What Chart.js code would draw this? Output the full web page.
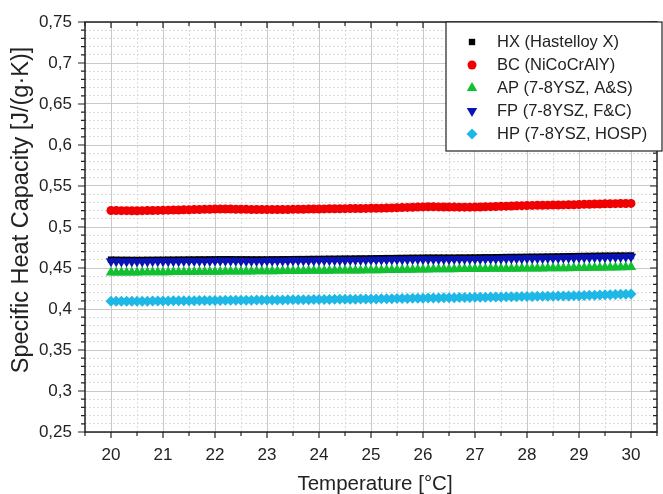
<!DOCTYPE html>
<html>
<head>
<meta charset="utf-8">
<script src="https://cdn.jsdelivr.net/npm/chart.js@4.4.1/dist/chart.umd.min.js"></script>
<style>
  html, body { margin: 0; padding: 0; background: #fff; }
</style>
</head>
<body>
<canvas id="heatChart" width="663" height="494"></canvas>
<script>
// temperature [°C], 0.1 K steps
var temps = [
  20.0, 20.1, 20.2, 20.3, 20.4, 20.5, 20.6, 20.7, 20.8, 20.9,
  21.0, 21.1, 21.2, 21.3, 21.4, 21.5, 21.6, 21.7, 21.8, 21.9,
  22.0, 22.1, 22.2, 22.3, 22.4, 22.5, 22.6, 22.7, 22.8, 22.9,
  23.0, 23.1, 23.2, 23.3, 23.4, 23.5, 23.6, 23.7, 23.8, 23.9,
  24.0, 24.1, 24.2, 24.3, 24.4, 24.5, 24.6, 24.7, 24.8, 24.9,
  25.0, 25.1, 25.2, 25.3, 25.4, 25.5, 25.6, 25.7, 25.8, 25.9,
  26.0, 26.1, 26.2, 26.3, 26.4, 26.5, 26.6, 26.7, 26.8, 26.9,
  27.0, 27.1, 27.2, 27.3, 27.4, 27.5, 27.6, 27.7, 27.8, 27.9,
  28.0, 28.1, 28.2, 28.3, 28.4, 28.5, 28.6, 28.7, 28.8, 28.9,
  29.0, 29.1, 29.2, 29.3, 29.4, 29.5, 29.6, 29.7, 29.8, 29.9,
  30.0
];

var hxValues = [
  0.4602, 0.4601, 0.4600, 0.4600, 0.4599, 0.4599, 0.4599, 0.4600, 0.4600, 0.4601,
  0.4601, 0.4602, 0.4602, 0.4603, 0.4603, 0.4604, 0.4604, 0.4605, 0.4605, 0.4606,
  0.4606, 0.4607, 0.4607, 0.4607, 0.4606, 0.4606, 0.4606, 0.4605, 0.4605, 0.4605,
  0.4605, 0.4606, 0.4606, 0.4607, 0.4607, 0.4608, 0.4609, 0.4609, 0.4610, 0.4611,
  0.4611, 0.4612, 0.4613, 0.4613, 0.4614, 0.4615, 0.4615, 0.4616, 0.4617, 0.4617,
  0.4618, 0.4619, 0.4620, 0.4621, 0.4621, 0.4622, 0.4623, 0.4624, 0.4625, 0.4625,
  0.4626, 0.4627, 0.4627, 0.4627, 0.4627, 0.4627, 0.4627, 0.4628, 0.4628, 0.4629,
  0.4629, 0.4630, 0.4631, 0.4631, 0.4632, 0.4633, 0.4634, 0.4635, 0.4635, 0.4636,
  0.4637, 0.4638, 0.4638, 0.4639, 0.4640, 0.4641, 0.4642, 0.4643, 0.4644, 0.4645,
  0.4646, 0.4647, 0.4648, 0.4649, 0.4650, 0.4651, 0.4651, 0.4652, 0.4652, 0.4652,
  0.4653
];

var bcValues = [
  0.5201, 0.5200, 0.5199, 0.5199, 0.5198, 0.5198, 0.5199, 0.5200, 0.5201, 0.5202,
  0.5203, 0.5205, 0.5206, 0.5208, 0.5209, 0.5211, 0.5212, 0.5214, 0.5215, 0.5216,
  0.5218, 0.5219, 0.5219, 0.5218, 0.5217, 0.5216, 0.5215, 0.5214, 0.5213, 0.5213,
  0.5212, 0.5212, 0.5213, 0.5213, 0.5214, 0.5215, 0.5216, 0.5217, 0.5218, 0.5219,
  0.5220, 0.5221, 0.5222, 0.5223, 0.5223, 0.5224, 0.5225, 0.5226, 0.5226, 0.5227,
  0.5228, 0.5229, 0.5230, 0.5231, 0.5233, 0.5235, 0.5237, 0.5239, 0.5241, 0.5243,
  0.5245, 0.5246, 0.5246, 0.5245, 0.5244, 0.5243, 0.5243, 0.5242, 0.5242, 0.5242,
  0.5243, 0.5244, 0.5246, 0.5248, 0.5250, 0.5252, 0.5254, 0.5256, 0.5258, 0.5260,
  0.5261, 0.5263, 0.5264, 0.5265, 0.5266, 0.5267, 0.5268, 0.5269, 0.5270, 0.5272,
  0.5274, 0.5276, 0.5277, 0.5279, 0.5281, 0.5283, 0.5284, 0.5285, 0.5286, 0.5287,
  0.5288
];

var apValues = [
  0.4444, 0.4444, 0.4445, 0.4445, 0.4446, 0.4446, 0.4447, 0.4447, 0.4448, 0.4448,
  0.4449, 0.4449, 0.4450, 0.4451, 0.4451, 0.4452, 0.4452, 0.4453, 0.4453, 0.4454,
  0.4455, 0.4455, 0.4456, 0.4456, 0.4457, 0.4457, 0.4458, 0.4458, 0.4459, 0.4459,
  0.4460, 0.4461, 0.4461, 0.4462, 0.4462, 0.4463, 0.4463, 0.4464, 0.4465, 0.4465,
  0.4466, 0.4467, 0.4467, 0.4468, 0.4469, 0.4469, 0.4470, 0.4471, 0.4471, 0.4472,
  0.4473, 0.4473, 0.4474, 0.4475, 0.4476, 0.4477, 0.4478, 0.4479, 0.4480, 0.4481,
  0.4482, 0.4483, 0.4484, 0.4484, 0.4485, 0.4486, 0.4486, 0.4487, 0.4487, 0.4488,
  0.4488, 0.4489, 0.4489, 0.4490, 0.4490, 0.4491, 0.4491, 0.4492, 0.4492, 0.4493,
  0.4493, 0.4494, 0.4494, 0.4495, 0.4496, 0.4496, 0.4497, 0.4498, 0.4498, 0.4499,
  0.4500, 0.4501, 0.4502, 0.4503, 0.4504, 0.4505, 0.4506, 0.4507, 0.4508, 0.4509,
  0.4511
];

var fpValues = [
  0.4582, 0.4581, 0.4580, 0.4580, 0.4580, 0.4579, 0.4580, 0.4580, 0.4581, 0.4581,
  0.4582, 0.4582, 0.4583, 0.4583, 0.4584, 0.4584, 0.4585, 0.4585, 0.4586, 0.4586,
  0.4587, 0.4587, 0.4587, 0.4587, 0.4587, 0.4586, 0.4586, 0.4586, 0.4586, 0.4586,
  0.4587, 0.4587, 0.4588, 0.4588, 0.4589, 0.4590, 0.4590, 0.4591, 0.4592, 0.4592,
  0.4593, 0.4594, 0.4594, 0.4595, 0.4596, 0.4596, 0.4597, 0.4598, 0.4598, 0.4599,
  0.4600, 0.4601, 0.4601, 0.4602, 0.4603, 0.4603, 0.4604, 0.4605, 0.4606, 0.4606,
  0.4607, 0.4607, 0.4608, 0.4608, 0.4608, 0.4608, 0.4609, 0.4609, 0.4609, 0.4610,
  0.4610, 0.4611, 0.4612, 0.4612, 0.4613, 0.4614, 0.4615, 0.4615, 0.4616, 0.4617,
  0.4618, 0.4619, 0.4619, 0.4620, 0.4621, 0.4622, 0.4623, 0.4624, 0.4625, 0.4626,
  0.4627, 0.4628, 0.4629, 0.4630, 0.4631, 0.4632, 0.4633, 0.4634, 0.4635, 0.4636,
  0.4637
];

var hpValues = [
  0.4095, 0.4094, 0.4094, 0.4094, 0.4095, 0.4095, 0.4096, 0.4096, 0.4097, 0.4097,
  0.4098, 0.4099, 0.4100, 0.4101, 0.4101, 0.4102, 0.4102, 0.4103, 0.4103, 0.4104,
  0.4105, 0.4105, 0.4106, 0.4106, 0.4107, 0.4107, 0.4108, 0.4108, 0.4109, 0.4109,
  0.4110, 0.4110, 0.4111, 0.4111, 0.4112, 0.4113, 0.4113, 0.4114, 0.4114, 0.4115,
  0.4116, 0.4116, 0.4117, 0.4118, 0.4118, 0.4119, 0.4120, 0.4120, 0.4121, 0.4122,
  0.4123, 0.4123, 0.4124, 0.4125, 0.4126, 0.4127, 0.4128, 0.4129, 0.4130, 0.4131,
  0.4132, 0.4133, 0.4134, 0.4135, 0.4136, 0.4137, 0.4138, 0.4139, 0.4140, 0.4141,
  0.4142, 0.4143, 0.4144, 0.4145, 0.4146, 0.4147, 0.4148, 0.4149, 0.4150, 0.4151,
  0.4152, 0.4153, 0.4154, 0.4155, 0.4156, 0.4157, 0.4158, 0.4159, 0.4160, 0.4161,
  0.4163, 0.4165, 0.4167, 0.4169, 0.4171, 0.4173, 0.4175, 0.4177, 0.4179, 0.4181,
  0.4183
];

var seriesNames = ['HX (Hastelloy X)', 'BC (NiCoCrAlY)', 'AP (7-8YSZ, A&S)', 'FP (7-8YSZ, F&C)', 'HP (7-8YSZ, HOSP)'];
var xTitle = 'Temperature [°C]';
var yTitle = 'Specific Heat Capacity [J/(g·K)]';

var FONT = '"Liberation Sans", Arial, sans-serif';

function toPoints(vals) {
  return temps.map(function(t, i) { return { x: t, y: vals[i] }; });
}
function isMajor(v, step) {
  var n = v / step;
  return Math.abs(n - Math.round(n)) < 1e-6;
}
function dashFor(step) {
  return function(c) {
    if (!c.tick) return [];
    return isMajor(c.tick.value, step) ? [] : [2, 2];
  };
}
function colorFor(step) {
  return function(c) {
    if (!c.tick) return '#ccc';
    return isMajor(c.tick.value, step) ? '#c9c9c9' : '#dadada';
  };
}

// frame, tick marks, axis titles and the boxed legend inside the plot
var framePlugin = {
  id: 'frame',
  afterDraw: function(chart) {
    var ctx = chart.ctx, a = chart.chartArea;
    var xs = chart.scales.x, ys = chart.scales.y;
    ctx.save();
    ctx.strokeStyle = '#222';
    ctx.lineWidth = 1.5;
    ctx.strokeRect(a.left, a.top, a.right - a.left, a.bottom - a.top);

    ctx.lineWidth = 1.2;
    ctx.beginPath();
    xs.ticks.forEach(function(t) {
      var px = xs.getPixelForValue(t.value);
      var len = isMajor(t.value, 1) ? 6 : 4;
      ctx.moveTo(px, a.bottom); ctx.lineTo(px, a.bottom + len);
      ctx.moveTo(px, a.top); ctx.lineTo(px, a.top + len);
    });
    ys.ticks.forEach(function(t) {
      var py = ys.getPixelForValue(t.value);
      var len = isMajor(t.value, 0.05) ? 7 : 4;
      ctx.moveTo(a.left - len, py); ctx.lineTo(a.left, py);
      ctx.moveTo(a.right - len, py); ctx.lineTo(a.right, py);
    });
    ctx.stroke();

    // axis titles
    ctx.fillStyle = '#222';
    ctx.textAlign = 'center';
    ctx.textBaseline = 'middle';
    ctx.font = '20.5px ' + FONT;
    ctx.fillText(xTitle, 375, 484);
    ctx.save();
    ctx.font = '23.5px ' + FONT;
    ctx.translate(22, 210);
    ctx.rotate(-Math.PI / 2);
    ctx.fillText(yTitle, 0, 0);
    ctx.restore();

    // legend box
    var bx = 446, by = 22, bw = 216, bh = 129;
    ctx.fillStyle = '#fff';
    ctx.fillRect(bx, by, bw, bh);
    ctx.strokeStyle = '#222';
    ctx.lineWidth = 1.2;
    ctx.strokeRect(bx, by, bw, bh);
    ctx.font = '16.5px ' + FONT;
    ctx.textAlign = 'left';
    chart.data.datasets.forEach(function(ds, i) {
      var y = 42 + i * 23;
      ctx.fillStyle = ds.backgroundColor;
      ctx.strokeStyle = ds.borderColor;
      Chart.helpers.drawPoint(ctx, {
        pointStyle: ds.pointStyle,
        rotation: ds.pointRotation || 0,
        radius: ds.pointRadius,
        borderWidth: 0
      }, 472, y);
      ctx.fillStyle = '#222';
      ctx.fillText(ds.label, 497, y);
    });
    ctx.restore();
  }
};

var ctx = document.getElementById('heatChart').getContext('2d');
new Chart(ctx, {
  type: 'scatter',
  data: {
    datasets: [
      { label: seriesNames[0], data: toPoints(hxValues), pointStyle: 'rect', pointRadius: 4.5,
        backgroundColor: '#000000', borderColor: '#000000', borderWidth: 0, order: 5 },
      { label: seriesNames[1], data: toPoints(bcValues), pointStyle: 'circle', pointRadius: 4.5,
        backgroundColor: '#f00000', borderColor: '#f00000', borderWidth: 0, order: 4 },
      { label: seriesNames[2], data: toPoints(apValues), pointStyle: 'triangle', pointRadius: 6,
        backgroundColor: '#10c030', borderColor: '#10c030', borderWidth: 0, order: 3 },
      { label: seriesNames[3], data: toPoints(fpValues), pointStyle: 'triangle', pointRotation: 180, pointRadius: 6,
        backgroundColor: '#0a14b4', borderColor: '#0a14b4', borderWidth: 0, order: 2 },
      { label: seriesNames[4], data: toPoints(hpValues), pointStyle: 'rectRot', pointRadius: 5.5,
        backgroundColor: '#1eb8e6', borderColor: '#1eb8e6', borderWidth: 0, order: 1 }
    ]
  },
  options: {
    responsive: false,
    animation: false,
    events: [],
    layout: { padding: { top: 22, right: 0, left: 0, bottom: 0 } },
    plugins: {
      legend: { display: false },
      tooltip: { enabled: false }
    },
    scales: {
      x: {
        type: 'linear',
        min: 19.5,
        max: 30.5,
        afterFit: function(s) {
          s.height = 62;
          s.paddingLeft = 0;
          s.paddingRight = 0;
        },
        ticks: {
          stepSize: 0.5,
          autoSkip: false,
          maxRotation: 0,
          padding: 13,
          color: '#222',
          font: { family: FONT, size: 17 },
          callback: function(v) { return isMajor(v, 1) ? String(Math.round(v)) : ''; }
        },
        grid: { drawTicks: false, color: colorFor(1), lineWidth: 1 },
        border: { display: false, dash: dashFor(1) }
      },
      y: {
        min: 0.25,
        max: 0.75,
        afterFit: function(s) {
          s.width = 85;
          s.paddingTop = 0;
          s.paddingBottom = 0;
        },
        ticks: {
          stepSize: 0.01,
          autoSkip: false,
          padding: 13,
          color: '#222',
          font: { family: FONT, size: 17 },
          callback: function(v) {
            if (!isMajor(v, 0.05)) return '';
            return String(Math.round(v * 100) / 100).replace('.', ',');
          }
        },
        grid: { drawTicks: false, color: colorFor(0.05), lineWidth: 1 },
        border: { display: false, dash: dashFor(0.05) }
      }
    }
  },
  plugins: [framePlugin]
});
</script>
</body>
</html>
